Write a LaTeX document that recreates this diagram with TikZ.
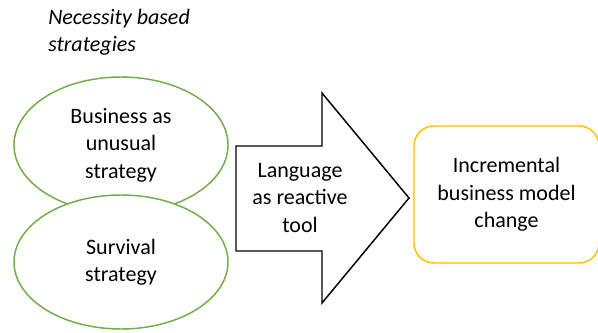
\documentclass[tikz,border=0pt]{standalone}
\usepackage{fontspec}
\setmainfont{Carlito}
\usetikzlibrary{shapes.geometric}
\usetikzlibrary{calc}
\tikzset{strat/.style={draw=stratgreen, ellipse, line width=1.1pt, fill=white, minimum width=160.5pt, minimum height=102pt, inner sep=0pt, align=center, font=\fontsize{16.5}{20.5}\selectfont}}
\tikzset{result/.style={draw=resultgold, rounded corners=15pt, line width=1.1pt, minimum width=138.75pt, minimum height=102.75pt, inner sep=0pt, align=center, font=\fontsize{16.5}{20.5}\selectfont}}
\tikzset{txt/.style={align=center, inner sep=0pt, font=\fontsize{16.5}{20.5}\selectfont}}
\definecolor{stratgreen}{HTML}{70AD47}
\definecolor{resultgold}{HTML}{FFC000}

\begin{document}
\begin{tikzpicture}[x=0.75pt, y=0.75pt]
        \useasboundingbox (0,0) rectangle (598,332);

        \node[align=left, anchor=west, inner sep=0pt, font=\fontsize{16.5}{20.5}\selectfont\itshape] (title) at (48,300) {Necessity based\\strategies};

        \node[strat] (bau) at (121,187) {Business as\\unusual\\strategy};
        \node[strat, minimum height=100.5pt] (surv) at (121,70) {Survival\\strategy};

        % block arrow
        \coordinate (a1) at (236,186);
        \coordinate (a2) at (322,186);
        \coordinate (a3) at (322,239);
        \coordinate (tip) at (409,134);
        \draw[line width=1.1pt, line join=miter] (a1) -- (a2) -- (a3) -- (tip) -- (322,29) -- (322,81) -- (236,81) -- cycle;
        \node[txt] (lang) at (300,134) {Language\\as reactive\\tool};

        \node[result] (inc) at (506.5,137.5) {Incremental\\business model\\change};
\end{tikzpicture}
\end{document}
